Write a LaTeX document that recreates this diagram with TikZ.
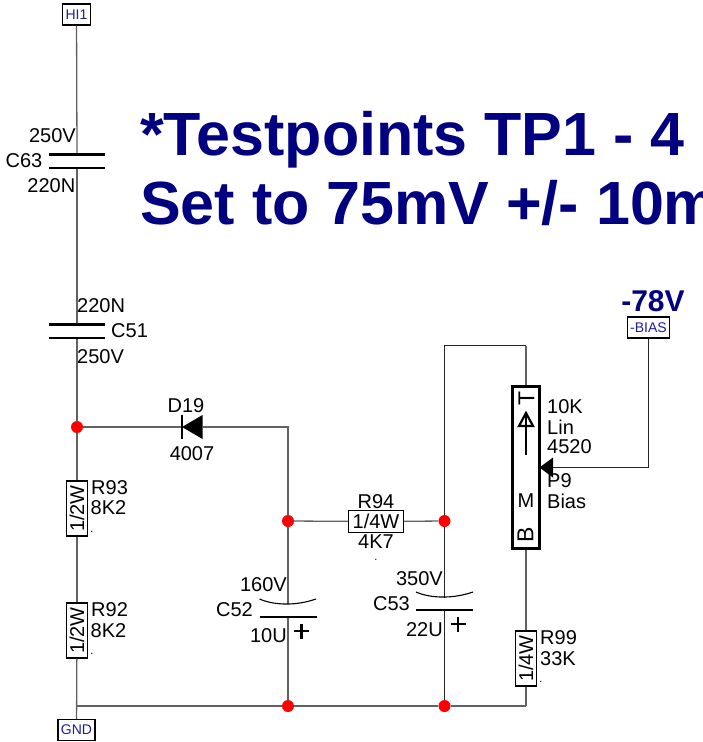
\documentclass[tikz,border=0pt]{standalone}
\usepackage{fontspec}
\setmainfont{Liberation Sans}
\definecolor{titlenavy}{RGB}{0,0,128}
\definecolor{portblue}{RGB}{30,30,150}
\begin{document}
\begin{tikzpicture}[
        x=1pt, y=-1pt,
        wire/.style={black!62, line width=1.3pt},
        wirethin/.style={black!85, line width=1.1pt},
        plate/.style={black, line width=2.4pt},
        plateb/.style={black, line width=1.1pt},
        lbl/.style={inner sep=0pt, font=\fontsize{20}{22}\selectfont},
        potlbl/.style={inner sep=0pt, font=\fontsize{23}{25}\selectfont},
        tick/.style={inner sep=0pt, font=\fontsize{11}{12}\selectfont},
        port/.style={draw=black, line width=1.1pt, fill=white, text=portblue, inner sep=0pt, minimum height=21pt, font=\fontsize{14}{15}\selectfont},
        res/.style={draw=black, line width=1.3pt, fill=white, inner sep=0pt, minimum width=55pt, minimum height=21.5pt, font=\fontsize{20}{22}\selectfont},
        junct/.style={circle, fill=red, inner sep=0pt, minimum size=12pt},
        title/.style={anchor=base west, inner sep=0pt, text=titlenavy, font=\fontsize{61}{64}\selectfont\bfseries}
    ]
        \useasboundingbox (0,0) rectangle (702,742);
        \clip (0,0) rectangle (702,742);

        % Ports
        \node [port, minimum width=27.5pt] (hi1) at (76.5,14.5) {HI1};
        \node [port, minimum width=37pt] (gnd) at (76.5,730) {GND};
        \node [port, minimum width=41.5pt] (bias) at (648.5,327.5) {-BIAS};

        % Junctions
        \node [junct] (jin) at (77,427) {};
        \node [junct] (jc52) at (288,521) {};
        \node [junct] (jc53) at (444.5,521) {};
        \node [junct] (jb52) at (288,706) {};
        \node [junct] (jb53) at (444.5,706) {};

        % Resistors
        \node [res, rotate=90] (r93) at (77,508.5) {1/2W};
        \node [res, rotate=90] (r92) at (77,630.5) {1/2W};
        \node [res, rotate=90] (r99) at (526,658.5) {1/4W};
        \node [res] (r94) at (376,521.5) {1/4W};

        % Pot body
        \node [draw=black, line width=2.6pt, inner sep=0pt, minimum width=27pt, minimum height=162pt] (p9) at (526,467.5) {};
        \node [potlbl, rotate=90] (p9t) at (526.5,398) {T};
        \node [lbl] (p9m) at (526,501) {M};
        \node [potlbl, rotate=90] (p9b) at (525.5,535) {B};

        % Capacitor and wire points
        \coordinate (c63a) at (77,154.5);
        \coordinate (c63b) at (77,168);
        \coordinate (c51a) at (77,324.5);
        \coordinate (c51b) at (77,338);
        \coordinate (c52a) at (288,604);
        \coordinate (c52b) at (288,617);
        \coordinate (c53a) at (444.5,597.5);
        \coordinate (c53b) at (444.5,610);
        \coordinate (d19k) at (182,427);
        \coordinate (d19a) at (202.5,427);
        \coordinate (corbl) at (77,706);
        \coordinate (corbr) at (526,706);
        \coordinate (cortr) at (526,345.5);
        \coordinate (wiptip) at (539.5,467.5);
        \coordinate (wipbase) at (553,467.5);

        % Wires
        \draw[wire] (hi1) -- (c63a);
        \draw[wire] (c63b) -- (c51a);
        \draw[wire] (c51b) -- (jin);
        \draw[wire] (jin) -- (r93);
        \draw[wire] (r93) -- (r92);
        \draw[wire] (r92) -- (gnd);
        \draw[wire] (jin) -- (d19k);
        \draw[wire] (d19a) -| (jc52);
        \draw[wire] (jc52) -- (c52a);
        \draw[wire] (c52b) -- (jb52);
        \draw[wire] (jc52) -- (r94);
        \draw[wire] (r94) -- (jc53);
        \draw[wirethin] (jc53) -- (c53a);
        \draw[wirethin] (c53b) -- (jb53);
        \draw[wirethin] (jc53) |- (cortr);
        \draw[wire] (cortr) -- (p9);
        \draw[wire] (p9) -- (r99);
        \draw[wire] (r99) -- (corbr);
        \draw[wire] (corbl) -- (jb52);
        \draw[wire] (jb52) -- (jb53);
        \draw[wire] (jb53) -- (corbr);
        \draw[wirethin] (bias) |- (wipbase);

        % Capacitor plates
        \draw[plate] ([xshift=-28pt]c63a) -- ([xshift=28pt]c63a);
        \draw[plate] ([xshift=-28pt]c63b) -- ([xshift=28pt]c63b);
        \draw[plate] ([xshift=-28pt]c51a) -- ([xshift=28pt]c51a);
        \draw[plate] ([xshift=-28pt]c51b) -- ([xshift=28pt]c51b);
        \draw[plate] ([xshift=-28.5pt]c52b) -- ([xshift=28.5pt]c52b);
        \draw[plate] ([xshift=-28.5pt]c53b) -- ([xshift=28.5pt]c53b);
        \draw[plateb] (259.5,599) .. controls (275,605.7) and (297,605.7) .. (316,599);
        \draw[plateb] (416,592) .. controls (431,598.7) and (454,598.7) .. (473,592);

        % Plus signs
        \draw[black, line width=2.7pt] (294,631) -- (309,631);
        \draw[black, line width=2.7pt] (301.5,623.5) -- (301.5,638.5);
        \draw[black, line width=2.7pt] (450.5,624) -- (465.5,624);
        \draw[black, line width=2.7pt] (458,616.5) -- (458,631.5);

        % Diode
        \fill[black] (d19k) -- (202.5,415) -- (202.5,439) -- cycle;
        \draw[black, line width=1.8pt] (182,415) -- (182,439);

        % Wiper and pot arrow
        \fill[black] (wiptip) -- (553,457.5) -- (553,477.5) -- cycle;
        \draw[black, line width=2.2pt] (526,455) -- (526,413);
        \draw[black, line width=2.2pt, line join=miter] (526,413) -- (519,426) -- (533,426) -- cycle;

        % Labels
        \node [lbl, anchor=east] (c63v) at (76,136) {250V};
        \node [lbl, anchor=east] (c63n) at (42.5,161) {C63};
        \node [lbl, anchor=east] (c63c) at (75.5,186) {220N};
        \node [lbl, anchor=west] (c51c) at (77,306) {220N};
        \node [lbl, anchor=west] (c51n) at (111,331) {C51};
        \node [lbl, anchor=west] (c51v) at (77,357) {250V};
        \node [lbl] (d19n) at (186,406) {D19};
        \node [lbl] (d19t) at (192,454) {4007};
        \node [lbl, anchor=west] (r93n) at (91,488) {R93};
        \node [lbl, anchor=west] (r93v) at (90.5,508) {8K2};
        \node [tick] (r93d) at (92,532) {.};
        \node [lbl, anchor=west] (r92n) at (91,610) {R92};
        \node [lbl, anchor=west] (r92v) at (90.5,631) {8K2};
        \node [tick] (r92d) at (92,654) {.};
        \node [lbl] (r94n) at (376,502) {R94};
        \node [lbl] (r94v) at (376,542) {4K7};
        \node [tick] (r94d) at (376,560) {.};
        \node [lbl, anchor=east] (c52v) at (287,585) {160V};
        \node [lbl, anchor=east] (c52n) at (253,610) {C52};
        \node [lbl, anchor=east] (c52c) at (287,636) {10U};
        \node [lbl, anchor=east] (c53v) at (443,579) {350V};
        \node [lbl, anchor=east] (c53n) at (410,604) {C53};
        \node [lbl, anchor=east] (c53c) at (443,630) {22U};
        \node [lbl, anchor=west] (p9a) at (547,407) {10K};
        \node [lbl, anchor=west] (p9l) at (547,427) {Lin};
        \node [lbl, anchor=west] (p9c) at (547,447) {4520};
        \node [lbl, anchor=west] (p9n) at (547,481) {P9};
        \node [lbl, anchor=west] (p9s) at (547,501) {Bias};
        \node [lbl, anchor=west] (r99n) at (540,638) {R99};
        \node [lbl, anchor=west] (r99v) at (540,659) {33K};
        \node [tick] (r99d) at (541,682) {.};

        % Notes
        \node [inner sep=0pt, text=titlenavy, font=\fontsize{30}{32}\selectfont\bfseries] (biasv) at (653,301) {-78V};
        \node [title] (title1) at (140,155) {*Testpoints TP1 - 4};
        \node [title] (title2) at (140,224) {Set to 75mV +/- 10m};
    \end{tikzpicture}
\end{document}
